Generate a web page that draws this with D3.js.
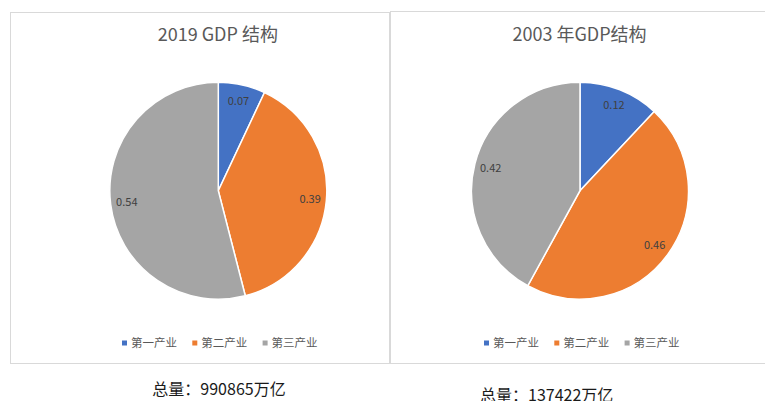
<!DOCTYPE html>
<html>
<head>
<meta charset="utf-8">
<script src="https://cdn.jsdelivr.net/npm/d3@7"></script>
<style>
	body { margin: 0; background: #fff; }
	svg { display: block; font-family: 'Noto Sans CJK SC', 'Noto Sans', sans-serif; }
</style>
</head>
<body>
<svg id="chart" width="765" height="401"></svg>
<script>
// data
const categories = ['第一产业', '第二产业', '第三产业'];
const values2019 = [0.07, 0.39, 0.54];
const values2003 = [0.12, 0.46, 0.42];
const titles = ['2019 GDP 结构', '2003 年GDP结构'];
const totals = ['总量：990865万亿', '总量：137422万亿'];
const colors = ['#4472c4', '#ed7d31', '#a5a5a5'];

const svg = d3.select('#chart');
const color = d3.scaleOrdinal().domain(categories).range(colors);

// panel frames
svg.append('rect')
	.attr('x', 10.5).attr('y', 12.5)
	.attr('width', 379).attr('height', 351)
	.attr('fill', 'none').attr('stroke', '#d9d9d9');
svg.append('rect')
	.attr('x', 390.5).attr('y', 11.5)
	.attr('width', 400).attr('height', 352)
	.attr('fill', 'none').attr('stroke', '#d9d9d9');

const panels = [
	{ values: values2019, cx: 218.3, cy: 190.7, title: titles[0], total: totals[0], legendX: 122, totalX: 219, totalY: 394.5, anchor: 'middle' },
	{ values: values2003, cx: 580, cy: 190.7, title: titles[1], total: totals[1], legendX: 484, totalX: 480, totalY: 400.5, anchor: 'start' },
];

const radius = 108.5;
const pie = d3.pie().sort(null).value((d) => d.value);
const arc = d3.arc().innerRadius(0).outerRadius(radius);
const label = d3.arc().innerRadius(radius * 0.85).outerRadius(radius * 0.85);

panels.forEach((p) => {
	const rows = categories.map((c, i) => ({ name: c, value: p.values[i] }));

	// title
	svg.append('text')
		.attr('x', p.cx - 0.5).attr('y', 40.5)
		.attr('text-anchor', 'middle')
		.attr('font-size', 18)
		.attr('fill', '#595959')
		.text(p.title);

	const g = svg.append('g')
		.attr('transform', 'translate(' + p.cx + ',' + p.cy + ')');

	const arcs = g.selectAll('.arc')
		.data(pie(rows))
		.enter()
		.append('g')
		.attr('class', 'arc');

	arcs.append('path')
		.attr('d', arc)
		.attr('fill', (d) => color(d.data.name))
		.attr('stroke', '#fff')
		.attr('stroke-width', 1.5);

	arcs.append('text')
		.attr('transform', (d) => 'translate(' + label.centroid(d) + ')')
		.attr('text-anchor', 'middle')
		.attr('dy', '0.35em')
		.attr('font-size', 11)
		.attr('fill', '#404040')
		.text((d) => d.data.value);

	// legend
	const legend = svg.append('g')
		.attr('transform', 'translate(' + p.legendX + ',343)');
	const items = legend.selectAll('g')
		.data(categories)
		.enter()
		.append('g')
		.attr('transform', (d, i) => 'translate(' + i * 70.3 + ',0)');
	items.append('rect')
		.attr('x', 0).attr('y', -2.5)
		.attr('width', 5).attr('height', 5)
		.attr('fill', (d) => color(d));
	items.append('text')
		.attr('x', 9).attr('dy', '0.35em')
		.attr('font-size', 11.5)
		.attr('fill', '#595959')
		.text((d) => d);

	// total under panel (the right one runs off the bottom edge, as in the source)
	svg.append('text')
		.attr('x', p.totalX).attr('y', p.totalY)
		.attr('text-anchor', p.anchor)
		.attr('font-size', 16)
		.attr('fill', '#1a1a1a')
		.text(p.total);
});
</script>
</body>
</html>
